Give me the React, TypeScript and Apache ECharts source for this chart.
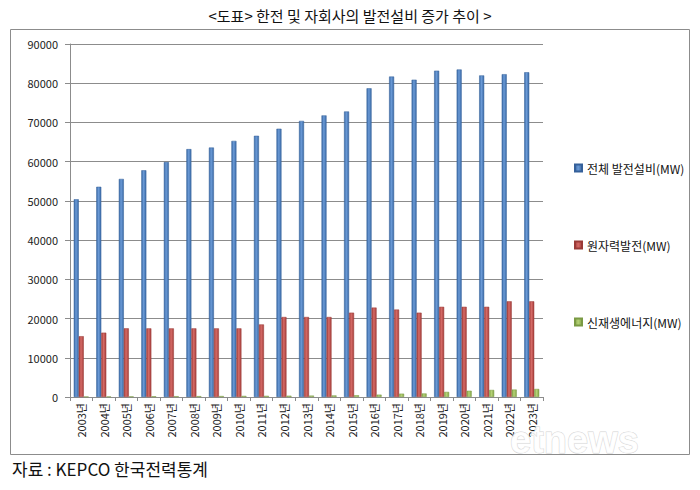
import React, { useEffect, useRef } from "react";
import * as echarts from "echarts";

const categories = [
  "2003년", "2004년", "2005년", "2006년", "2007년", "2008년", "2009년", "2010년", "2011년", "2012년",
  "2013년", "2014년", "2015년", "2016년", "2017년", "2018년", "2019년", "2020년", "2021년", "2022년", "2023년",
];
const totalCapacity = [
  50400, 53600, 55600, 57800, 59900, 63200, 63600, 65300, 66600, 68400,
  70400, 71800, 72800, 78700, 81700, 80900, 83200, 83500, 82000, 82300, 82800,
];
const nuclearCapacity = [
  15500, 16400, 17500, 17500, 17500, 17500, 17500, 17500, 18500, 20400,
  20400, 20400, 21500, 22800, 22300, 21500, 23000, 23000, 23000, 24400, 24400,
];
const renewableCapacity = [
  100, 120, 150, 180, 200, 220, 250, 280, 300, 330,
  360, 400, 450, 600, 850, 900, 1300, 1600, 1800, 1900, 2050,
];
const seriesNames = ["전체 발전설비(MW)", "원자력발전(MW)", "신재생에너지(MW)"];
const titleText = "<도표> 한전 및 자회사의 발전설비 증가 추이 >";
const sourceText = "자료 : KEPCO 한국전력통계";

const grad = (edge: string, mid: string) =>
  new echarts.graphic.LinearGradient(0, 0, 1, 0, [
    { offset: 0, color: edge },
    { offset: 0.45, color: mid },
    { offset: 1, color: edge },
  ]);

export default function App() {
  const ref = useRef<HTMLDivElement>(null);
  useEffect(() => {
    if (!ref.current) return;
    const chart = echarts.init(ref.current, null, { renderer: "svg" });
    const font = "'Noto Sans CJK KR', 'Noto Sans', sans-serif";
    chart.setOption({
      animation: false,
      backgroundColor: "#ffffff",
      textStyle: { fontFamily: font },
      graphic: [
        {
          type: "rect",
          shape: { x: 10.5, y: 29.5, width: 679, height: 425 },
          style: { fill: "none", stroke: "#8c8c8c", lineWidth: 1 },
          silent: true,
        },
        {
          type: "text",
          x: 350,
          y: 15,
          style: {
            text: titleText,
            fontSize: 15,
            fontFamily: font,
            fill: "#111",
            align: "center",
            verticalAlign: "middle",
          },
        },
        {
          type: "text",
          x: 12,
          y: 468,
          style: {
            text: sourceText,
            fontSize: 17,
            fontFamily: font,
            fill: "#111",
            align: "left",
            verticalAlign: "middle",
          },
        },
        {
          type: "text",
          x: 510,
          y: 440,
          style: {
            text: "etnews",
            fontSize: 38,
            fontWeight: "bold",
            fontFamily: "'Liberation Sans', sans-serif",
            fill: "#ffffff",
            stroke: "#cfcfcf",
            lineWidth: 1,
            align: "left",
            verticalAlign: "middle",
            opacity: 0.9,
          },
          silent: true,
          z: 100,
        },
      ],
      legend: {
        orient: "vertical",
        left: 569,
        top: 157,
        itemWidth: 7,
        itemHeight: 7,
        itemGap: 65,
        icon: "rect",
        textStyle: { fontSize: 12, color: "#111", fontFamily: font },
        data: seriesNames,
      },
      grid: { left: 70, right: 157, top: 44, bottom: 93 },
      xAxis: {
        type: "category",
        data: categories,
        axisLine: { show: true, lineStyle: { color: "#8c8c8c" } },
        axisTick: { show: true, alignWithLabel: false, length: 4, lineStyle: { color: "#8c8c8c" } },
        axisLabel: { rotate: 90, fontSize: 11, color: "#222", margin: 6, fontFamily: font },
      },
      yAxis: {
        type: "value",
        min: 0,
        max: 90000,
        interval: 10000,
        axisLine: { show: true, lineStyle: { color: "#8c8c8c" } },
        axisTick: { show: true, length: 5, lineStyle: { color: "#8c8c8c" } },
        axisLabel: {
          fontSize: 11,
          color: "#222",
          margin: 12,
          fontFamily: font,
          formatter: (v: number) => String(v),
        },
        splitLine: { show: true, lineStyle: { color: "#8c8c8c", width: 1 } },
      },
      series: [
        {
          name: seriesNames[0],
          type: "bar",
          data: totalCapacity,
          barWidth: 5,
          barGap: "0%",
          itemStyle: { color: grad("#3a6aa6", "#6b9ad6"), borderColor: "#35609a", borderWidth: 0.5 },
        },
        {
          name: seriesNames[1],
          type: "bar",
          data: nuclearCapacity,
          barWidth: 5,
          barGap: "0%",
          itemStyle: { color: grad("#a63f3c", "#d46a66"), borderColor: "#9a3a37", borderWidth: 0.5 },
        },
        {
          name: seriesNames[2],
          type: "bar",
          data: renewableCapacity,
          barWidth: 5,
          barGap: "0%",
          itemStyle: { color: grad("#85a54a", "#b5d276"), borderColor: "#7a9a44", borderWidth: 0.5 },
        },
      ],
      color: ["#4F81BD", "#C0504D", "#9BBB59"],
    });
    return () => chart.dispose();
  }, []);
  return (
    <div
      ref={ref}
      style={{ position: "absolute", left: 0, top: 0, width: 700, height: 490 }}
    />
  );
}
